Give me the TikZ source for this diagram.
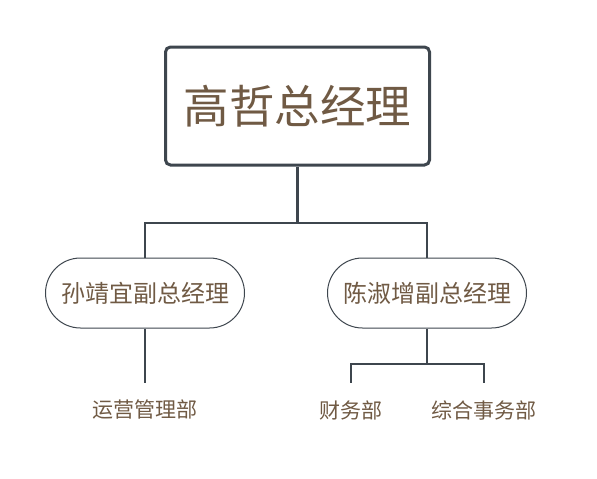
\documentclass[tikz,border=0pt]{standalone}
\usepackage{fontspec}
\newfontfamily\cjk{Noto Sans CJK SC}
\usepackage{tikz}
\usetikzlibrary{positioning}
\definecolor{orgline}{RGB}{62,70,78}
\definecolor{orgtext}{RGB}{112,90,68}

\begin{document}
\begin{tikzpicture}[
  x=1pt, y=-1pt,
  every node/.style={font=\cjk, text=orgtext},
  boss/.style={rectangle, rounded corners=5pt, draw=orgline, line width=3pt,
               fill=white, minimum width=264pt, minimum height=118pt,
               font=\cjk\fontsize{45.5}{52}\selectfont},
  deputy/.style={rectangle, rounded corners=35pt, draw=orgline, line width=1pt,
                 fill=white, minimum width=199pt, minimum height=70pt,
                 font=\cjk\fontsize{24}{28}\selectfont},
  dept/.style={inner sep=0pt, minimum height=54pt,
               font=\cjk\fontsize{21}{24}\selectfont},
  link/.style={draw=orgline, line width=2.6pt},
  sublink/.style={draw=orgline, line width=1.8pt},
]
\useasboundingbox (0,0) rectangle (597,479);

\node[boss] (ceo) at (297.5,106) {高哲总经理};

% ── Deputies ──
\node[deputy] (vpa) at (145,293) {孙靖宜副总经理};
\node[deputy] (vpb) at (427,293) {陈淑增副总经理};
\coordinate (split) at (297.5,223);
\draw[link] (ceo) -- (split); \draw[link] (split) -| (vpa); \draw[link] (split) -| (vpb);

% ── Departments ──
\node[dept] (ops) at (145,410) {运营管理部};
\node[dept] (fin) at (351,410) {财务部};
\node[dept] (adm) at (484,410) {综合事务部};
\coordinate (splitb) at (427,364);
\draw[sublink] (vpa) -- (ops);
\draw[sublink] (vpb) -- (splitb); \draw[sublink] (splitb) -| (fin); \draw[sublink] (splitb) -| (adm);

\end{tikzpicture}
\end{document}
